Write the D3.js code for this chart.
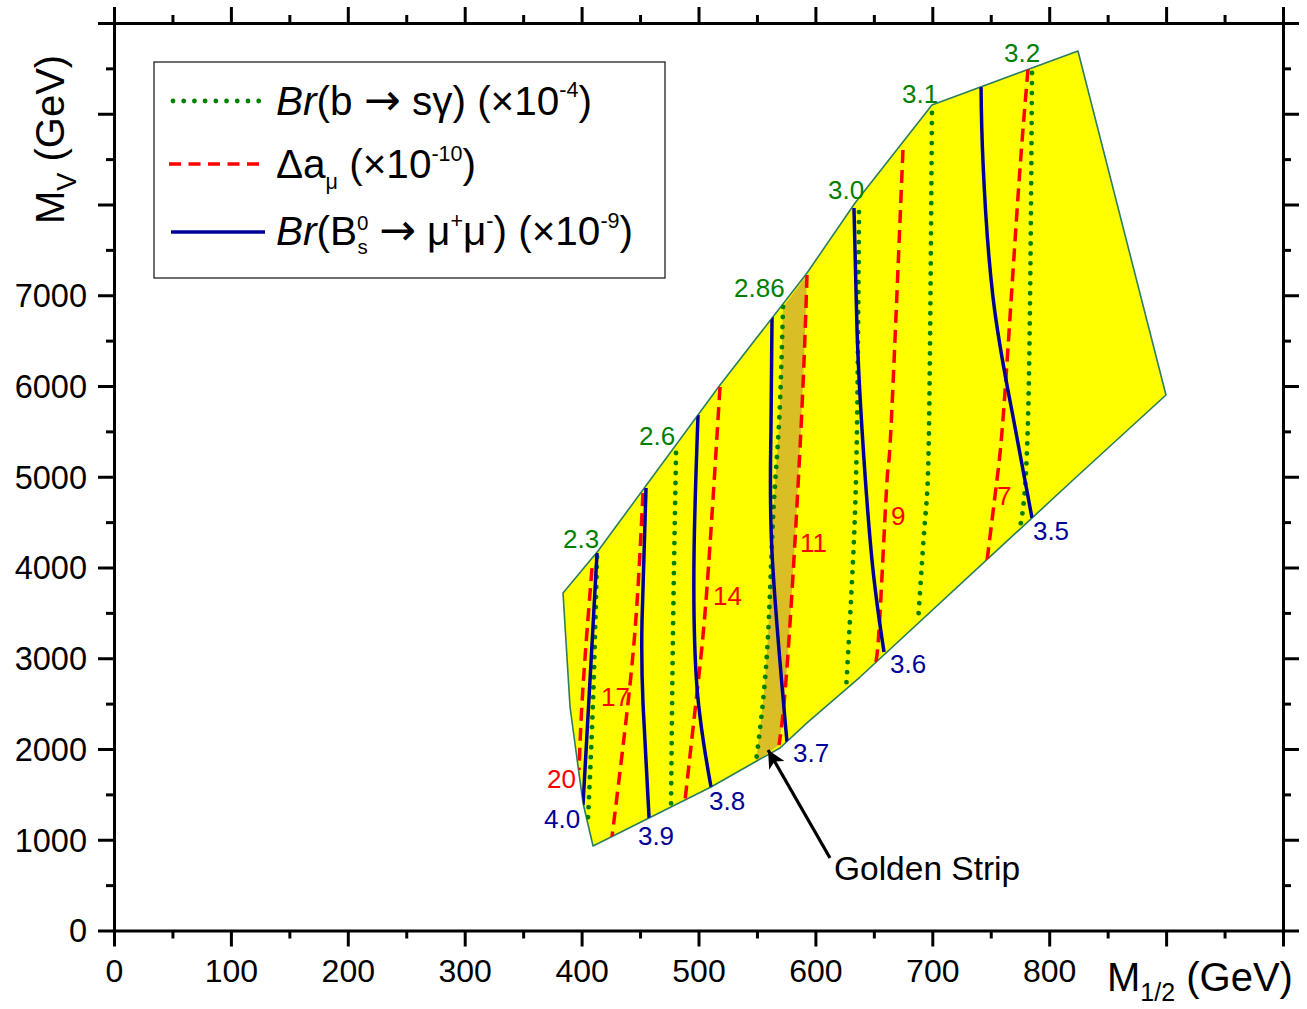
<!DOCTYPE html>
<html>
<head>
<meta charset="utf-8">
<script src="https://cdn.jsdelivr.net/npm/d3@7"></script>
<style>
  html, body { margin: 0; padding: 0; background: #fff; }
  svg { display: block; font-family: "Liberation Sans", Arial, sans-serif; }
</style>
</head>
<body>
<svg id="chart" width="1307" height="1009"></svg>
<script>
// ---------------- data ----------------
const xMajorTicks = [0, 100, 200, 300, 400, 500, 600, 700, 800, 900, 1000];
const xTickLabels = ["0", "100", "200", "300", "400", "500", "600", "700", "800", "", ""];
const yMajorTicks = [0, 1000, 2000, 3000, 4000, 5000, 6000, 7000, 8000, 9000, 10000];
const yTickLabels = ["0", "1000", "2000", "3000", "4000", "5000", "6000", "7000", "", "", ""];

// allowed region (M1/2, MV)
const regionBoundary = [
  [384.1, 3719], [390.1, 2463], [401.2, 1405], [409.8, 931],
  [457.7, 1240], [510.7, 1581], [548.3, 1857], [569.7, 2011], [592.8, 2287],
  [638.2, 2793], [820.4, 4964], [899.9, 5901],
  [824.6, 9691], [699.7, 9096], [633.9, 8016], [592.8, 7245], [518.4, 6011], [414.0, 4182]
];

// Br(b -> s gamma) contours (x10^-4)
const bsgLevels = ["2.3", "2.6", "2.86", "3.0", "3.1", "3.2"];
const bsgContours = [
  [[413.2, 4116], [409.8, 2540], [405.5, 1240]],
  [[480.8, 5262], [478.2, 3311], [476.5, 1361]],
  [[572.3, 6871], [568.9, 5592], [563.7, 4523], [558.6, 3058], [549.2, 1857]],
  [[637.3, 7917], [635.6, 5548], [632.2, 4083], [626.2, 2650]],
  [[699.7, 9008], [697.2, 5548], [693.8, 4523], [687.8, 3399]],
  [[785.3, 9449], [781.9, 5647], [775.0, 4435]]
];

// Delta a_mu contours (x10^-10)
const amuLevels = ["20", "17", "14", "11", "9", "7"];
const amuContours = [
  [[408.9, 3994], [401.2, 2683], [397.8, 1769]],
  [[452.5, 4821], [447.4, 3609], [439.7, 2507], [426.0, 1030]],
  [[518.4, 5989], [507.3, 3785], [498.7, 2617], [488.5, 1438]],
  [[592.8, 7223], [587.7, 5537], [576.6, 3058], [568.9, 2044]],
  [[674.9, 8601], [664.7, 5548], [661.3, 4964], [655.3, 3499], [651.8, 2959]],
  [[781.9, 9493], [773.3, 8083], [762.0, 5900], [755.3, 4964], [746.8, 4072]]
];

// Br(Bs -> mu mu) contours (x10^-9)
const bsmmLevels = ["4.0", "3.9", "3.8", "3.7", "3.6", "3.5"];
const bsmmContours = [
  [[413.2, 4160], [407.2, 2760], [401.2, 1383]],
  [[455.1, 4876], [451.7, 3421], [452.5, 2507], [457.7, 1240]],
  [[499.6, 5680], [496.2, 4160], [498.7, 2683], [510.7, 1581]],
  [[562.9, 6760], [562.0, 5515], [562.9, 4160], [575.7, 2077]],
  [[633.0, 7961], [635.6, 6617], [639.9, 5515], [648.4, 4083], [658.7, 3069]],
  [[741.7, 9295], [743.4, 8457], [751.9, 6981], [768.5, 5700], [785.3, 4545]]
];

// contour label anchors (data coordinates)
const bsgLabelPos = [[384.1, 4215], [449.1, 5350], [530.4, 6981], [610.8, 8061], [674.1, 9118], [761.3, 9570]];
const amuLabelPos = [[370.4, 1570], [416.6, 2474], [512.4, 3587], [586.8, 4171], [664.7, 4468], [755.3, 4689]];
const bsmmLabelPos = [[367.8, 1129], [448.2, 942], [509.0, 1328], [580.8, 1857], [663.8, 2837], [786.1, 4303]];

// golden strip annotation
const annotationText = "Golden Strip";
const annotationArrowFrom = [612.5, 799];
const annotationArrowTo = [559.5, 1989];
const annotationTextPos = [615.9, 556];

// ---------------- drawing ----------------
const svg = d3.select("#chart");
const mLeft = 114, mRight = 1283, mTop = 23, mBottom = 930.5;
const x = d3.scaleLinear().domain([0, 1000]).range([mLeft, mRight]);
const y = d3.scaleLinear().domain([0, 10000]).range([mBottom, mTop]);

const GREEN = "#008000", RED = "#ff0000", BLUE = "#000099", EDGE = "#2b7d5e";
const YELLOW = "#ffff00", GOLD = "#dabe26";

const straight = d3.line().x(d => x(d[0])).y(d => y(d[1]));
const smooth = d3.line().x(d => x(d[0])).y(d => y(d[1])).curve(d3.curveNatural);

const defs = svg.append("defs");
defs.append("clipPath").attr("id", "regionClip")
  .append("path").attr("d", straight(regionBoundary) + "Z");

defs.append("marker").attr("id", "arrowHead")
  .attr("viewBox", "0 0 10 10").attr("refX", 10).attr("refY", 5)
  .attr("markerWidth", 7).attr("markerHeight", 5.5).attr("orient", "auto")
  .attr("markerUnits", "strokeWidth")
  .append("path").attr("d", "M0,0 L10,5 L0,10 L2.5,5 Z").attr("fill", "#000");

// region
svg.append("path").attr("d", straight(regionBoundary) + "Z").attr("fill", YELLOW);

// golden strip: between bsg 2.86 and amu 11
const stripPath = smooth(bsgContours[2]) + "L" + smooth(amuContours[3].slice().reverse()).slice(1) + "Z";
svg.append("path")
  .attr("d", stripPath)
  .attr("clip-path", "url(#regionClip)")
  .attr("fill", GOLD);

// region outline
svg.append("path")
  .attr("d", straight(regionBoundary) + "Z")
  .attr("fill", "none").attr("stroke", EDGE).attr("stroke-width", 1.6)
  .attr("stroke-linejoin", "round");

const lines = svg.append("g").attr("clip-path", "url(#regionClip)");
lines.selectAll(".amu").data(amuContours).join("path")
  .attr("d", smooth).attr("fill", "none").attr("stroke", RED)
  .attr("stroke-width", 3.5).attr("stroke-dasharray", "13 7");
lines.selectAll(".bsg").data(bsgContours).join("path")
  .attr("d", smooth).attr("fill", "none").attr("stroke", GREEN)
  .attr("stroke-width", 4.8).attr("stroke-linecap", "round").attr("stroke-dasharray", "0.01 10");
lines.selectAll(".bsmm").data(bsmmContours).join("path")
  .attr("d", smooth).attr("fill", "none").attr("stroke", BLUE)
  .attr("stroke-width", 3.5);

// contour labels
function labels(levels, pos, color) {
  svg.append("g").selectAll("text").data(levels).join("text")
    .attr("x", (d, i) => x(pos[i][0])).attr("y", (d, i) => y(pos[i][1]))
    .attr("font-size", 26).attr("fill", color).text(d => d);
}
labels(bsgLevels, bsgLabelPos, GREEN);
labels(amuLevels, amuLabelPos, RED);
labels(bsmmLevels, bsmmLabelPos, BLUE);

// annotation
svg.append("line")
  .attr("x1", x(annotationArrowFrom[0])).attr("y1", y(annotationArrowFrom[1]))
  .attr("x2", x(annotationArrowTo[0])).attr("y2", y(annotationArrowTo[1]))
  .attr("stroke", "#000").attr("stroke-width", 3.2).attr("marker-end", "url(#arrowHead)");
svg.append("text")
  .attr("x", x(annotationTextPos[0])).attr("y", y(annotationTextPos[1]))
  .attr("font-size", 33.5).attr("fill", "#000").text(annotationText);

// ---------------- axes ----------------
const xMinor = d3.range(50, 1000, 100);
const yMinor = d3.range(500, 10000, 1000);
function styleAxis(g) {
  g.selectAll("path.domain").attr("stroke", "#000").attr("stroke-width", 3).attr("stroke-linecap", "square");
  g.selectAll(".tick line").attr("stroke", "#000").attr("stroke-width", 3);
}
// bottom
const gB = svg.append("g").attr("transform", `translate(0,${mBottom})`)
  .call(d3.axisBottom(x).tickValues(xMajorTicks).tickSize(16).tickSizeOuter(0)
    .tickFormat((d, i) => xTickLabels[i]));
gB.selectAll(".tick text").attr("y", 51.5).attr("dy", 0).attr("font-size", 32)
  .attr("font-family", "Liberation Sans, Arial, sans-serif").attr("fill", "#000");
styleAxis(gB);
const gBm = svg.append("g").attr("transform", `translate(0,${mBottom})`)
  .call(d3.axisBottom(x).tickValues(xMinor).tickSize(8).tickFormat(""));
styleAxis(gBm); gBm.select("path.domain").remove();
// top
const gT = svg.append("g").attr("transform", `translate(0,${mTop})`)
  .call(d3.axisTop(x).tickValues(xMajorTicks).tickSize(16).tickSizeOuter(0).tickFormat(""));
styleAxis(gT);
const gTm = svg.append("g").attr("transform", `translate(0,${mTop})`)
  .call(d3.axisTop(x).tickValues(xMinor).tickSize(8).tickFormat(""));
styleAxis(gTm); gTm.select("path.domain").remove();
// left
const gL = svg.append("g").attr("transform", `translate(${mLeft},0)`)
  .call(d3.axisLeft(y).tickValues(yMajorTicks).tickSize(16).tickSizeOuter(0)
    .tickFormat((d, i) => yTickLabels[i]));
gL.selectAll(".tick text").attr("x", -27).attr("dy", "0.35em").attr("font-size", 32.5)
  .attr("font-family", "Liberation Sans, Arial, sans-serif").attr("fill", "#000");
styleAxis(gL);
const gLm = svg.append("g").attr("transform", `translate(${mLeft},0)`)
  .call(d3.axisLeft(y).tickValues(yMinor).tickSize(8).tickFormat(""));
styleAxis(gLm); gLm.select("path.domain").remove();
// right
const gR = svg.append("g").attr("transform", `translate(${mRight},0)`)
  .call(d3.axisRight(y).tickValues(yMajorTicks).tickSize(16).tickSizeOuter(0).tickFormat(""));
styleAxis(gR);
const gRm = svg.append("g").attr("transform", `translate(${mRight},0)`)
  .call(d3.axisRight(y).tickValues(yMinor).tickSize(8).tickFormat(""));
styleAxis(gRm); gRm.select("path.domain").remove();

// axis titles
const xt = svg.append("text").attr("x", 1107).attr("y", 991).attr("font-size", 40).attr("fill", "#000");
xt.append("tspan").text("M");
xt.append("tspan").attr("font-size", 25).attr("dy", 10).text("1/2");
xt.append("tspan").attr("dy", -10).text(" (GeV)");

const yt = svg.append("text").attr("transform", "translate(64,224) rotate(-90)")
  .attr("font-size", 40).attr("fill", "#000");
yt.append("tspan").text("M");
yt.append("tspan").attr("font-size", 27).attr("dy", 12).text("V");
yt.append("tspan").attr("dy", -12).text(" (GeV)");

// ---------------- legend ----------------
const lg = svg.append("g");
lg.append("rect").attr("x", 154).attr("y", 62).attr("width", 511).attr("height", 216)
  .attr("fill", "#fff").attr("stroke", "#222").attr("stroke-width", 1.3);
const lx1 = 173, lx2 = 263, tx = 276, fs = 40.5, ss = 21.5;
lg.append("line").attr("x1", lx1).attr("x2", lx2 - 4).attr("y1", 101).attr("y2", 101)
  .attr("stroke", GREEN).attr("stroke-width", 4.8).attr("stroke-linecap", "round").attr("stroke-dasharray", "0.01 10.7");
lg.append("line").attr("x1", lx1 - 4).attr("x2", lx2).attr("y1", 164).attr("y2", 164)
  .attr("stroke", RED).attr("stroke-width", 3.5).attr("stroke-dasharray", "12 7.5");
lg.append("line").attr("x1", lx1 - 2).attr("x2", lx2 + 2).attr("y1", 232).attr("y2", 232)
  .attr("stroke", BLUE).attr("stroke-width", 3.5);

const ARROWFONT = "DejaVu Sans, sans-serif";
const t1 = lg.append("text").attr("x", tx).attr("y", 115).attr("font-size", fs).attr("fill", "#000");
t1.append("tspan").attr("font-style", "italic").text("Br");
t1.append("tspan").text("(b ");
t1.append("tspan").attr("font-family", ARROWFONT).attr("font-size", 44).text("\u2192");
t1.append("tspan").text(" s\u03B3) (\u00D710");
t1.append("tspan").attr("font-size", ss).attr("dy", -18).text("-4");
t1.append("tspan").attr("dy", 18).text(")");

const t2 = lg.append("text").attr("x", tx).attr("y", 178).attr("font-size", fs).attr("fill", "#000");
t2.append("tspan").text("\u0394a");
t2.append("tspan").attr("font-size", ss).attr("dy", 11).text("\u03BC");
t2.append("tspan").attr("dy", -11).text(" (\u00D710");
t2.append("tspan").attr("font-size", ss).attr("dy", -17).text("-10");
t2.append("tspan").attr("dy", 17).text(")");

const t3 = lg.append("text").attr("x", tx).attr("y", 245).attr("font-size", fs).attr("fill", "#000");
t3.append("tspan").attr("font-style", "italic").text("Br");
t3.append("tspan").text("(B");
t3.append("tspan").attr("font-size", ss - 1).attr("dy", -15).text("0");
t3.append("tspan").attr("font-size", ss - 1).attr("dx", -11).attr("dy", 24).text("s");
t3.append("tspan").attr("dy", -9).text(" ");
t3.append("tspan").attr("font-family", ARROWFONT).attr("font-size", 44).text("\u2192");
t3.append("tspan").text(" \u03BC");
t3.append("tspan").attr("font-size", ss).attr("dy", -17).text("+");
t3.append("tspan").attr("dy", 17).text("\u03BC");
t3.append("tspan").attr("font-size", ss).attr("dy", -17).text("-");
t3.append("tspan").attr("dy", 17).text(") (\u00D710");
t3.append("tspan").attr("font-size", ss).attr("dy", -17).text("-9");
t3.append("tspan").attr("dy", 17).text(")");
</script>
</body>
</html>
